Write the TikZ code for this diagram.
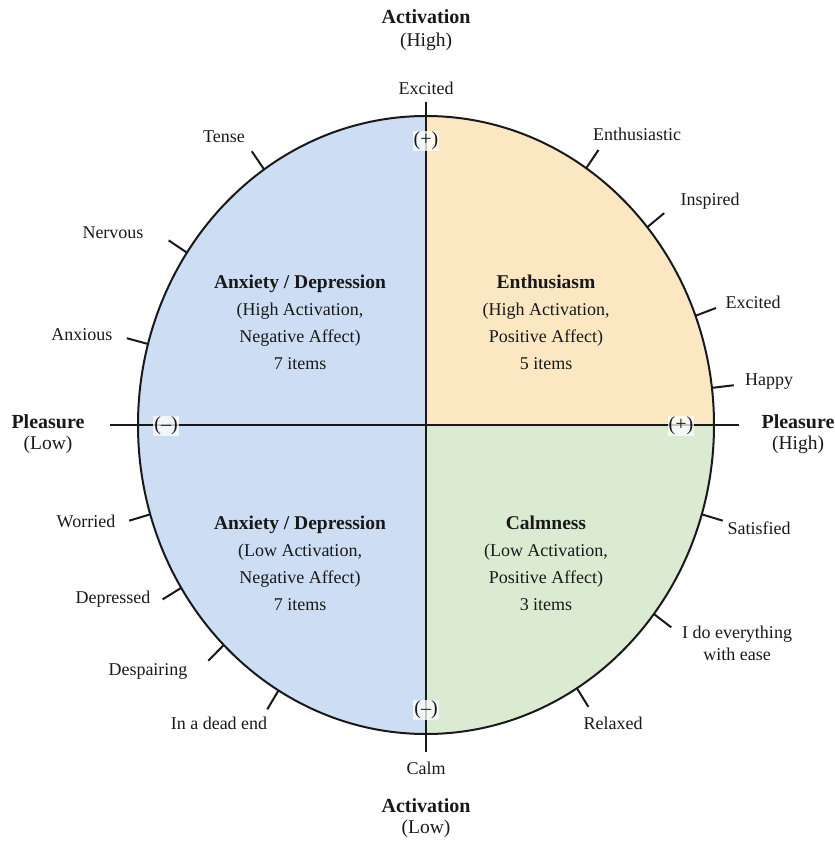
\documentclass[tikz,border=0pt]{standalone}
\usepackage{fontspec}
\setmainfont{Liberation Serif}
\usetikzlibrary{calc}
\definecolor{qblue}{RGB}{205,221,243}
\definecolor{qyellow}{RGB}{251,232,195}
\definecolor{qgreen}{RGB}{219,235,210}
\definecolor{ink}{RGB}{25,25,25}
\begin{document}
\begin{tikzpicture}[x=1pt,y=-1pt,
  lbl/.style={font=\fontsize{18}{22}\selectfont, text=ink, inner sep=0pt, align=center},
  axttl/.style={font=\bfseries\fontsize{20}{24}\selectfont, text=ink, inner sep=0pt},
  axsub/.style={font=\fontsize{19.5}{24}\selectfont, text=ink, inner sep=0pt},
  quad/.style={font=\fontsize{18}{27}\selectfont, text=ink, inner sep=0pt, align=center},
  sign/.style={font=\fontsize{20}{24}\selectfont, text=ink, fill=white, fill opacity=0.75, text opacity=1, inner sep=1pt},
  rim/.style={draw=ink, line width=2pt},
  axisline/.style={draw=ink, line width=2pt},
  tickmark/.style={draw=ink, line width=2pt}]
\useasboundingbox (0,0) rectangle (835,841);
\coordinate (c) at (426,425);
% quadrant fills
\begin{scope}
  \clip (c) ellipse [x radius=288pt, y radius=309pt];
  \fill[qblue] (100,80) rectangle (426,770);
  \fill[qyellow] (426,80) rectangle (760,425);
  \fill[qgreen] (426,425) rectangle (760,770);
\end{scope}
\draw[rim] (c) ellipse [x radius=288pt, y radius=309pt];
% axes
\coordinate (vt) at (426,102);
\coordinate (vb) at (426,752);
\coordinate (hl) at (110,425);
\coordinate (hr) at (739,425);
\draw[axisline] (vt) -- (vb);
\draw[axisline] (hl) -- (hr);
% ticks
\foreach \n/\a in {tense/124.2, nervous/146.1, anxious/164.8, enth/56.2, insp/39.8, exc/20.7, happy/6.9, worried/196.8, depr/211.8, desp/225.4, dead/239.2, sat/343.2, ease/322.3, relax/301.6} {
  \coordinate (\n-a) at ($(c)+(\a:288pt and 309pt)$);
  \coordinate (\n-b) at ($(c)+(\a:310pt and 331pt)$);
  \draw[tickmark] (\n-a) -- (\n-b);
}
% signs
\node[sign] (sgt) at (426,141) {(+)};
\node[sign] (sgb) at (426,710) {(--)};
\node[sign] (sgl) at (166,426) {(--)};
\node[sign] (sgr) at (681,426) {(+)};
% axis titles
\node[axttl] (actt) at (426,17) {Activation};
\node[axsub] (acth) at (426,42) {(High)};
\node[lbl] (excitedtop) at (426,88) {Excited};
\node[lbl] (calm) at (426,768) {Calm};
\node[axttl] (actb) at (426,806) {Activation};
\node[axsub] (actl) at (426,829) {(Low)};
\node[axttl] (plt) at (48,422) {Pleasure};
\node[axsub] (pll) at (48,445) {(Low)};
\node[axttl] (prt) at (798,422) {Pleasure};
\node[axsub] (prh) at (798,445) {(High)};
% item labels
\node[lbl] (tense) at (224,137) {Tense};
\node[lbl] (nervous) at (113,233) {Nervous};
\node[lbl] (anxious) at (82,335) {Anxious};
\node[lbl] (enth) at (637,134) {Enthusiastic};
\node[lbl] (insp) at (710,201) {Inspired};
\node[lbl] (exc) at (753,302) {Excited};
\node[lbl] (happy) at (769,382) {Happy};
\node[lbl] (worried) at (86,521) {Worried};
\node[lbl] (depr) at (113,599) {Depressed};
\node[lbl] (desp) at (148,671) {Despairing};
\node[lbl] (dead) at (219,723) {In a dead end};
\node[lbl] (sat) at (759,528) {Satisfied};
\node[lbl] (ease) at (737,643) {I do everything\\with ease};
\node[lbl] (relax) at (613,723) {Relaxed};
% quadrant texts
\node[quad] (q1) at (300,322) {{\bfseries\fontsize{19.5}{27}\selectfont Anxiety / Depression}\\(High Activation,\\Negative Affect)\\7 items};
\node[quad] (q2) at (546,322) {{\bfseries\fontsize{19.5}{27}\selectfont Enthusiasm}\\(High Activation,\\Positive Affect)\\5 items};
\node[quad] (q3) at (300,563) {{\bfseries\fontsize{19.5}{27}\selectfont Anxiety / Depression}\\(Low Activation,\\Negative Affect)\\7 items};
\node[quad] (q4) at (546,563) {{\bfseries\fontsize{19.5}{27}\selectfont Calmness}\\(Low Activation,\\Positive Affect)\\3 items};
\end{tikzpicture}
\end{document}
